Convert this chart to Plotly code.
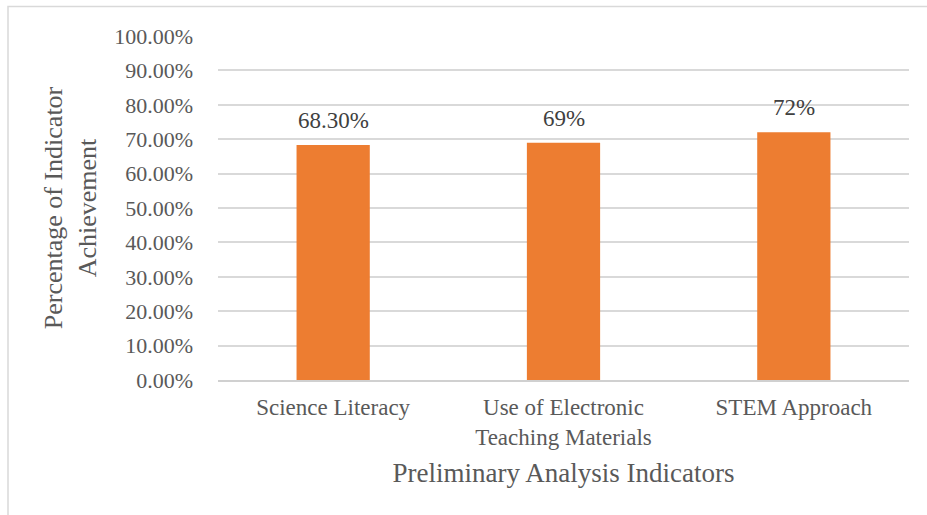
import plotly.graph_objects as go

# Indicator names and achievement levels
categories = ["Science Literacy", "Use of Electronic<br>Teaching Materials", "STEM Approach"]
achievement = [0.683, 0.69, 0.72]
value_labels = ["68.30%", "69%", "72%"]
y_ticks = [i / 10 for i in range(11)]
y_tick_labels = [f"{v * 100:.2f}%" for v in y_ticks]

W, H = 927, 515
L, R, T, B = 218, 18, 36, 135
FONT = "Liberation Serif"
TEXT = "#595959"

fig = go.Figure(
    go.Bar(
        x=categories,
        y=achievement,
        marker=dict(color="#ED7D31", line=dict(width=0)),
        width=0.318,
        hoverinfo="skip",
    )
)

# value labels above each bar
for cat, val, lab in zip(categories, achievement, value_labels):
    fig.add_annotation(
        x=cat, y=val, text=lab, showarrow=False,
        yanchor="bottom", yshift=10,
        font=dict(family=FONT, size=23, color="#404040"),
    )

# outer chart-area border (extends past the right and bottom edges)
pw, ph = W - L - R, H - T - B
def px_x(x):
    return (x - L) / pw
def px_y(y):
    return (H - B - y) / ph
fig.add_shape(
    type="rect", xref="paper", yref="paper",
    x0=px_x(8), x1=px_x(940), y0=px_y(530), y1=px_y(6.5),
    line=dict(color="#d9d9d9", width=1.5), fillcolor="rgba(0,0,0,0)", layer="below",
)

fig.update_layout(
    width=W, height=H,
    margin=dict(l=L, r=R, t=T, b=B),
    paper_bgcolor="white", plot_bgcolor="white",
    showlegend=False,
    font=dict(family=FONT, color=TEXT, size=22),
    xaxis=dict(
        showgrid=False, showline=True, linecolor="#d0d0d0", linewidth=1.5,
        ticks="", tickfont=dict(family=FONT, size=23, color=TEXT),
        ticklabelstandoff=6,
        title=dict(text="Preliminary Analysis Indicators",
                   font=dict(family=FONT, size=27, color=TEXT), standoff=14),
    ),
    yaxis=dict(
        range=[0, 1], tickvals=y_ticks, ticktext=y_tick_labels,
        showgrid=True, gridcolor="#d9d9d9", gridwidth=1.5,
        zeroline=False, showline=False, ticks="",
        ticklabelstandoff=24,
        tickfont=dict(family=FONT, size=22, color=TEXT),
        title=dict(text="Percentage of Indicator<br>Achievement",
                   font=dict(family=FONT, size=26, color=TEXT), standoff=10),
    ),
)

fig.write_html("out.html")
